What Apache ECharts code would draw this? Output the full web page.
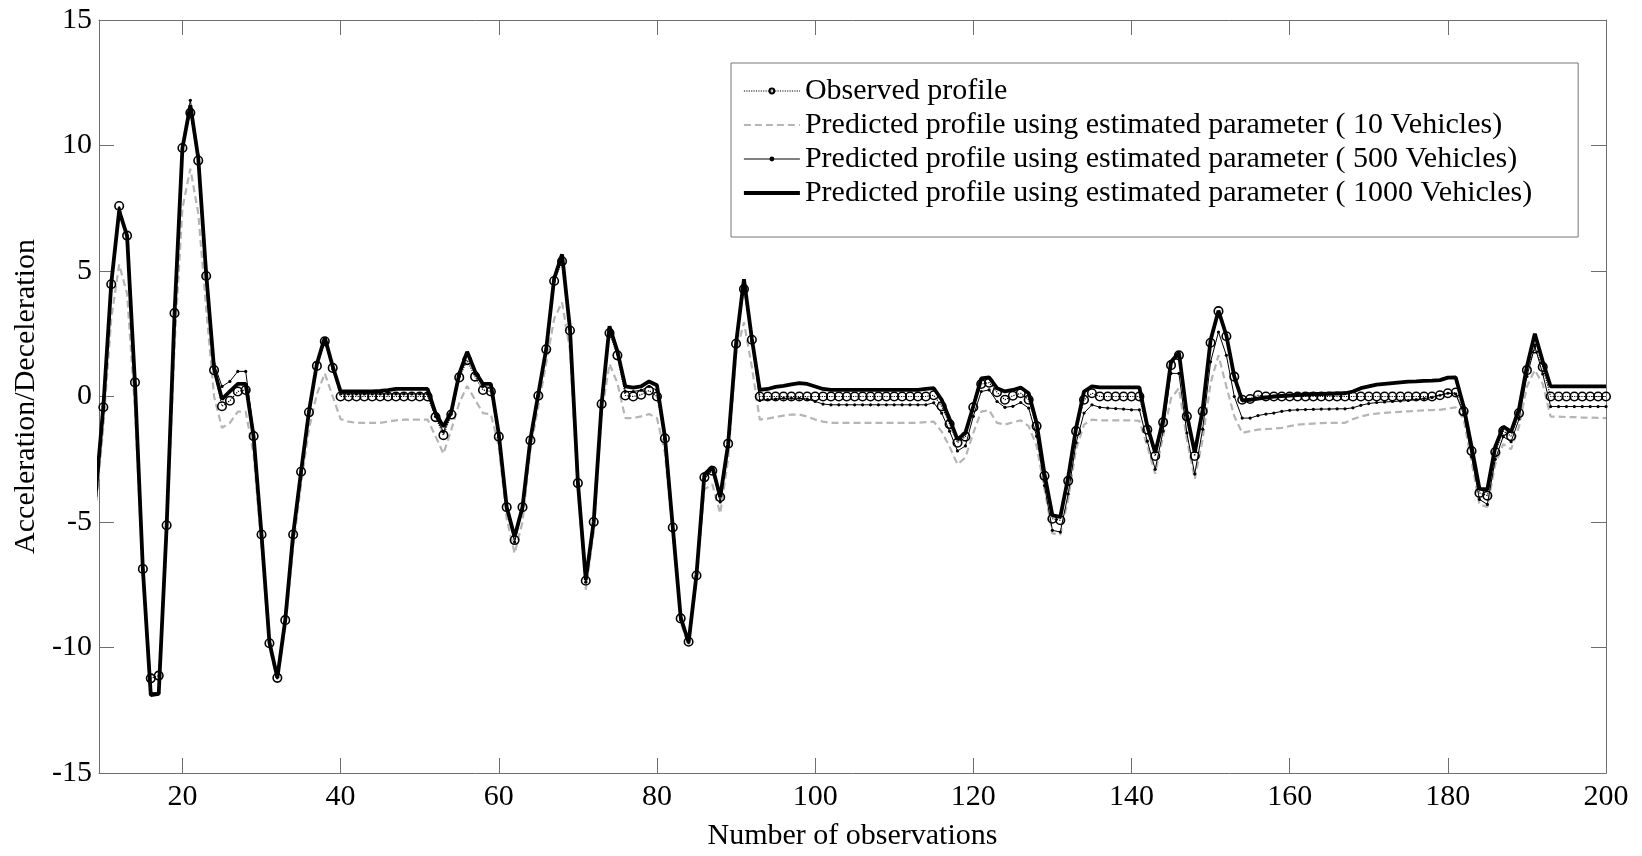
<!DOCTYPE html>
<html>
<head>
<meta charset="utf-8">
<script src="https://cdn.jsdelivr.net/npm/echarts@6/dist/echarts.min.js"></script>
<style>
html,body{margin:0;padding:0;background:#fff;}
#chart{width:1642px;height:856px;}
</style>
</head>
<body>
<div id="chart"></div>
<script>
// x observations run from 9 to 200 (the axis starts just below 10)
const xStart = 9;
const xTicks = [20, 40, 60, 80, 100, 120, 140, 160, 180, 200];
const yTicks = [-15, -10, -5, 0, 5, 10, 15];

const names = [
  'Observed profile',
  'Predicted profile using estimated parameter ( 10 Vehicles)',
  'Predicted profile using estimated parameter ( 500 Vehicles)',
  'Predicted profile using estimated parameter ( 1000 Vehicles)'
];

const observed = [
  -4.0,
  -0.43, 4.47, 7.59, 6.41, 0.56, -6.87, -11.23, -11.12, -5.13, 3.32,
  9.9, 11.3, 9.4, 4.8, 1.05, -0.39, -0.17, 0.2, 0.26, -1.58,
  -5.5, -9.83, -11.21, -8.91, -5.5, -3.0, -0.63, 1.22, 2.2, 1.14,
  0, 0, 0, 0, 0, 0, 0, 0, 0, 0,
  0, 0, -0.82, -1.54, -0.72, 0.76, 1.45, 0.79, 0.26, 0.2,
  -1.6, -4.41, -5.72, -4.41, -1.75, 0.03, 1.88, 4.6, 5.39, 2.63,
  -3.45, -7.34, -5.0, -0.3, 2.53, 1.64, 0.04, 0.0, 0.07, 0.24,
  0.0, -1.67, -5.22, -8.84, -9.77, -7.13, -3.22, -2.96, -4.01, -1.88,
  2.1, 4.28, 2.26, 0, 0, 0, 0, 0, 0, 0,
  0, 0, 0, 0, 0, 0, 0, 0, 0, 0,
  0, 0, 0, 0, 0, 0.05, -0.39, -1.1, -1.84, -1.6,
  -0.43, 0.5, 0.55, 0.17, -0.13, 0.03, 0.13, -0.13, -1.18, -3.16,
  -4.87, -4.93, -3.36, -1.38, -0.13, 0.13, 0, 0, 0, 0,
  0, 0, -1.32, -2.37, -1.03, 1.25, 1.64, -0.79, -2.37, -0.59,
  2.14, 3.4, 2.4, 0.79, -0.13, -0.1, 0.05, 0, 0, 0,
  0, 0, 0, 0, 0, 0, 0, 0, 0, 0,
  0, 0, 0, 0, 0, 0, 0, 0, 0, 0.05,
  0.13, 0.16, -0.59, -2.17, -3.84, -3.95, -2.21, -1.38, -1.58, -0.66,
  1.05, 1.91, 1.18, 0, 0, 0, 0, 0, 0, 0,
  0
];

const pred10 = [
  -4.6,
  -1.2, 3.1, 5.26, 4.1, -0.5, -7.2, -11.9, -11.8, -5.6, 2.0,
  7.5, 9.08, 7.3, 3.5, 0.0, -1.25, -1.05, -0.6, -0.6, -2.3,
  -6.0, -10.0, -11.3, -9.2, -6.0, -3.5, -1.3, 0.1, 0.92, 0.0,
  -0.9, -1.0, -1.05, -1.05, -1.05, -1.05, -1.0, -0.95, -0.92, -0.92,
  -0.92, -0.92, -1.58, -2.28, -1.32, -0.26, 0.42, -0.13, -0.66, -0.71,
  -1.97, -4.87, -6.25, -5.0, -2.1, -0.39, 1.32, 3.09, 3.75, 1.84,
  -3.68, -7.7, -5.4, -0.66, 1.3, 0.53, -0.86, -0.86, -0.79, -0.7,
  -0.86, -2.24, -5.53, -9.01, -9.9, -7.37, -3.7, -3.5, -4.66, -2.5,
  1.71, 2.96, 1.18, -0.92, -0.88, -0.82, -0.76, -0.72, -0.72, -0.8,
  -0.92, -1.0, -1.05, -1.05, -1.05, -1.05, -1.05, -1.05, -1.05, -1.05,
  -1.05, -1.05, -1.05, -1.05, -1.02, -1.0, -1.4, -2.0, -2.7, -2.43,
  -1.45, -0.6, -0.55, -1.05, -1.12, -1.03, -0.95, -1.18, -1.97, -3.68,
  -5.45, -5.5, -4.08, -2.1, -1.12, -0.92, -0.95, -0.95, -0.95, -0.95,
  -0.95, -0.97, -1.97, -3.08, -1.58, -0.07, 0.33, -1.71, -3.28, -1.71,
  0.53, 1.64, 0.4, -0.79, -1.45, -1.38, -1.32, -1.3, -1.28, -1.25,
  -1.18, -1.12, -1.1, -1.08, -1.06, -1.05, -1.05, -1.05, -0.9, -0.8,
  -0.72, -0.68, -0.65, -0.63, -0.61, -0.59, -0.57, -0.55, -0.54, -0.53,
  -0.48, -0.43, -0.9, -2.6, -4.3, -4.4, -2.7, -1.9, -2.1, -1.2,
  0.4, 1.05, 0.5, -0.8, -0.8, -0.82, -0.82, -0.84, -0.84, -0.85,
  -0.86
];

const pred500 = [
  -4.0,
  -0.4, 4.5, 7.5, 6.4, 0.5, -6.9, -11.8, -11.8, -5.2, 3.3,
  10.0, 11.8, 9.6, 5.0, 1.3, 0.4, 0.6, 1.0, 1.0, -1.4,
  -5.4, -9.7, -11.2, -8.9, -5.5, -3.0, -0.6, 1.3, 2.3, 1.1,
  0.1, 0.1, 0.1, 0.1, 0.1, 0.1, 0.1, 0.1, 0.1, 0.1,
  0.1, 0.1, -0.8, -1.4, -0.7, 0.8, 1.7, 0.9, 0.4, 0.35,
  -1.6, -4.5, -5.8, -4.5, -1.8, 0.05, 1.9, 4.6, 5.6, 2.7,
  -3.5, -7.4, -5.1, -0.4, 2.7, 1.7, 0.2, 0.2, 0.25, 0.4,
  0.25, -1.7, -5.3, -8.9, -9.8, -7.2, -3.3, -2.9, -4.2, -2.0,
  2.0, 4.6, 2.2, -0.16, -0.12, -0.1, -0.07, -0.07, -0.07, -0.1,
  -0.2, -0.3, -0.33, -0.33, -0.33, -0.33, -0.33, -0.33, -0.33, -0.33,
  -0.33, -0.33, -0.33, -0.33, -0.33, -0.25, -0.66, -1.38, -2.17, -1.97,
  -0.79, 0.2, 0.26, -0.2, -0.43, -0.39, -0.24, -0.46, -1.58, -3.55,
  -5.33, -5.4, -3.88, -1.84, -0.66, -0.33, -0.43, -0.46, -0.48, -0.5,
  -0.53, -0.53, -1.78, -2.9, -1.38, 0.92, 0.92, -1.45, -3.09, -1.3,
  1.38, 2.57, 1.64, 0.0, -0.86, -0.86, -0.76, -0.7, -0.66, -0.59,
  -0.55, -0.53, -0.52, -0.51, -0.5, -0.5, -0.49, -0.49, -0.45, -0.35,
  -0.28, -0.24, -0.22, -0.2, -0.18, -0.16, -0.12, -0.08, -0.04, 0.05,
  0.13, 0.1, -0.7, -2.4, -4.1, -4.3, -2.5, -1.6, -1.8, -0.9,
  0.8, 2.0, 0.9, -0.4, -0.4, -0.4, -0.4, -0.4, -0.4, -0.4,
  -0.4
];

const pred1000 = [
  -4.0,
  -0.4, 4.5, 7.4, 6.4, 0.5, -6.9, -11.9, -11.85, -5.2, 3.3,
  9.9, 11.6, 9.5, 4.9, 1.1, -0.1, 0.2, 0.5, 0.5, -1.6,
  -5.5, -9.8, -11.2, -8.9, -5.5, -3.0, -0.6, 1.3, 2.35, 1.2,
  0.2, 0.2, 0.2, 0.2, 0.2, 0.22, 0.25, 0.3, 0.3, 0.3,
  0.3, 0.3, -0.66, -1.2, -0.6, 0.9, 1.78, 1.0, 0.5, 0.5,
  -1.5, -4.4, -5.6, -4.4, -1.7, 0.1, 1.9, 4.7, 5.66, 2.7,
  -3.4, -7.3, -5.0, -0.3, 2.8, 1.8, 0.4, 0.35, 0.4, 0.6,
  0.45, -1.6, -5.2, -8.8, -9.8, -7.1, -3.1, -2.8, -4.0, -1.9,
  2.1, 4.67, 2.3, 0.26, 0.3, 0.38, 0.42, 0.48, 0.53, 0.5,
  0.4, 0.3, 0.26, 0.26, 0.26, 0.26, 0.26, 0.26, 0.26, 0.26,
  0.26, 0.26, 0.26, 0.26, 0.3, 0.33, -0.13, -0.9, -1.71, -1.45,
  -0.39, 0.72, 0.76, 0.33, 0.2, 0.26, 0.36, 0.13, -1.05, -3.09,
  -4.74, -4.8, -3.22, -1.25, 0.2, 0.4, 0.36, 0.36, 0.36, 0.36,
  0.36, 0.36, -1.18, -2.24, -0.92, 1.38, 1.74, -0.72, -2.24, -0.53,
  2.24, 3.42, 2.43, 0.79, -0.16, -0.13, -0.08, -0.04, 0.0, 0.02,
  0.04, 0.06, 0.08, 0.1, 0.1, 0.11, 0.12, 0.13, 0.2, 0.33,
  0.4, 0.47, 0.5, 0.53, 0.56, 0.59, 0.6, 0.62, 0.63, 0.65,
  0.75, 0.76, -0.4, -2.0, -3.68, -3.7, -2.0, -1.2, -1.4, -0.5,
  1.2, 2.5, 1.4, 0.4, 0.4, 0.4, 0.4, 0.4, 0.4, 0.4,
  0.4
];

function pairs(arr) {
  return arr.map(function (v, i) { return [xStart + i, v]; });
}

const FONT = 'Liberation Serif';
const AXIS_COLOR = '#6e6e6e';

const chart = echarts.init(document.getElementById('chart'), null, {renderer: 'canvas'});

const tickCommon = {show: true, inside: true, length: 15, lineStyle: {color: AXIS_COLOR, width: 1}};

const option = {
  animation: false,
  backgroundColor: '#ffffff',
  grid: {left: 99, right: 36, top: 20, bottom: 75, containLabel: false},
  legend: {
    orient: 'vertical',
    left: 731,
    top: 63,
    data: names,
    padding: [13, 46, 29, 11],
    itemGap: 4,
    itemWidth: 56,
    itemHeight: 6,
    borderColor: '#777777',
    borderWidth: 1,
    backgroundColor: '#ffffff',
    lineStyle: {width: 'inherit'},
    textStyle: {fontFamily: FONT, fontSize: 30, color: '#000', lineHeight: 30}
  },
  xAxis: [
    {
      type: 'value', min: 9.45, max: 200, position: 'bottom',
      name: 'Number of observations', nameLocation: 'middle', nameGap: 48,
      nameTextStyle: {fontFamily: FONT, fontSize: 30, color: '#000'},
      axisLine: {show: true, onZero: false, lineStyle: {color: AXIS_COLOR, width: 1}},
      axisTick: Object.assign({customValues: xTicks}, tickCommon),
      axisLabel: {customValues: xTicks, fontFamily: FONT, fontSize: 30, color: '#000', margin: 9},
      splitLine: {show: false}
    },
    {
      type: 'value', min: 9.45, max: 200, position: 'top',
      axisLine: {show: true, onZero: false, lineStyle: {color: AXIS_COLOR, width: 1}},
      axisTick: Object.assign({customValues: xTicks}, tickCommon),
      axisLabel: {show: false},
      splitLine: {show: false}
    }
  ],
  yAxis: [
    {
      type: 'value', min: -15, max: 15, interval: 5, position: 'left',
      name: 'Acceleration/Deceleration', nameLocation: 'middle', nameGap: 42,
      nameTextStyle: {fontFamily: FONT, fontSize: 30, color: '#000'},
      axisLine: {show: true, onZero: false, lineStyle: {color: AXIS_COLOR, width: 1}},
      axisTick: Object.assign({customValues: yTicks}, tickCommon),
      axisLabel: {customValues: yTicks, fontFamily: FONT, fontSize: 30, color: '#000', margin: 7},
      splitLine: {show: false}
    },
    {
      type: 'value', min: -15, max: 15, interval: 5, position: 'right',
      axisLine: {show: true, onZero: false, lineStyle: {color: AXIS_COLOR, width: 1}},
      axisTick: Object.assign({customValues: yTicks}, tickCommon),
      axisLabel: {show: false},
      splitLine: {show: false}
    }
  ],
  series: [
    {
      name: names[1], type: 'line', data: pairs(pred10),
      symbol: 'none', color: '#b5b5b5',
      lineStyle: {color: '#b5b5b5', width: 2.2, type: [7, 4]},
      itemStyle: {color: '#b5b5b5', opacity: 0},
      z: 2
    },
    {
      name: names[2], type: 'line', data: pairs(pred500),
      symbol: 'circle', symbolSize: 3.2, showSymbol: true, color: '#000',
      lineStyle: {color: '#000', width: 1},
      itemStyle: {color: '#000'},
      z: 3
    },
    {
      name: names[3], type: 'line', data: pairs(pred1000),
      symbol: 'none', color: '#000',
      lineStyle: {color: '#000', width: 3.8},
      itemStyle: {color: '#000', opacity: 0},
      z: 4
    },
    {
      name: names[0], type: 'line', data: pairs(observed),
      symbol: 'circle', symbolSize: 8.5, showSymbol: true, color: '#000',
      lineStyle: {color: '#000', width: 1.2, type: 'dotted'},
      itemStyle: {color: 'rgba(255,255,255,0)', borderColor: '#000', borderWidth: 1.6},
      z: 5
    }
  ]
};

chart.setOption(option);
</script>
</body>
</html>
